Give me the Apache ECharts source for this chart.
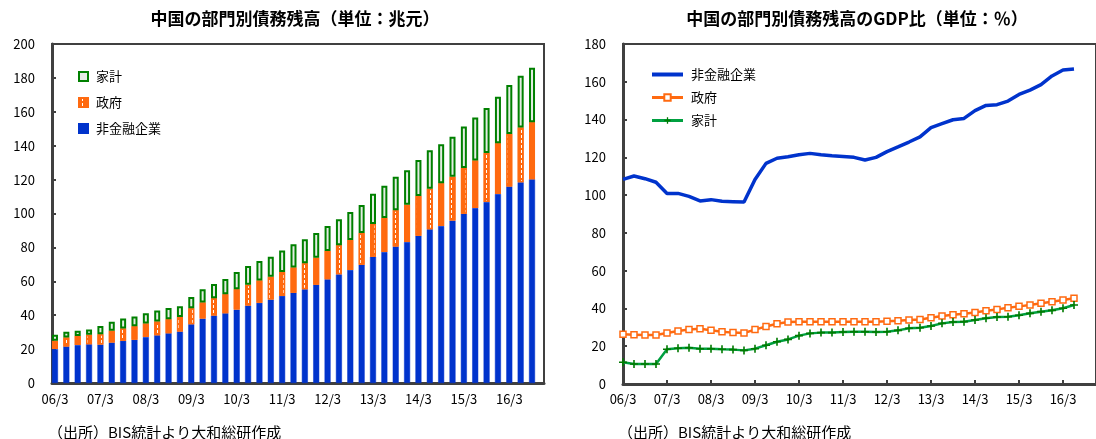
<!DOCTYPE html>
<html>
<head>
<meta charset="utf-8">
<script src="https://cdn.jsdelivr.net/npm/echarts@6/dist/echarts.min.js"></script>
<style>
  html, body { margin: 0; padding: 0; background: #fff; }
  #chart { width: 1096px; height: 439px; }
</style>
</head>
<body>
<div id="chart"></div>
<script>
// 四半期ラベル（06/3 〜 16/9）
const quarters = [
  '06/3','06/6','06/9','06/12','07/3','07/6','07/9','07/12',
  '08/3','08/6','08/9','08/12','09/3','09/6','09/9','09/12',
  '10/3','10/6','10/9','10/12','11/3','11/6','11/9','11/12',
  '12/3','12/6','12/9','12/12','13/3','13/6','13/9','13/12',
  '14/3','14/6','14/9','14/12','15/3','15/6','15/9','15/12',
  '16/3','16/6','16/9'
];

// 左：債務残高（兆元）
const corpDebt = [20.0,21.6,22.4,22.9,22.7,23.9,24.9,25.5,27.1,28.2,29.4,30.4,34.7,38.0,39.8,41.2,43.3,45.7,47.3,49.2,51.4,53.3,55.3,58.0,61.2,64.1,66.7,69.8,74.5,77.3,80.6,83.2,86.9,90.7,92.6,95.8,99.9,103.2,106.8,111.5,116.0,118.4,120.2];
const govDebt = [4.9,5.3,5.4,5.5,6.1,6.9,7.3,8.0,8.0,8.1,8.2,8.6,9.4,9.5,10.2,11.2,12.0,12.3,13.1,13.5,14.1,14.9,15.3,15.9,16.7,17.1,17.7,18.7,19.3,20.0,21.3,22.0,23.4,23.9,25.2,25.9,26.9,28.0,28.9,29.9,30.9,32.4,33.6];
const hhDebt = [3.5,3.3,3.0,3.2,4.9,5.3,5.8,5.7,6.1,6.4,6.7,6.3,6.7,7.8,8.4,9.0,10.2,11.0,11.6,11.8,12.7,13.6,14.2,14.6,14.7,15.4,16.5,16.5,17.9,19.1,19.8,20.3,21.3,22.7,23.0,23.6,24.6,25.5,26.5,27.5,28.9,30.5,32.2];

// 右：GDP比（%）
const corpRatio = [108.3,110.1,108.7,106.8,100.9,100.9,99.3,96.9,97.6,96.7,96.5,96.3,108.3,116.8,119.5,120.3,121.4,122.1,121.4,120.9,120.5,120.0,118.6,120.0,123.0,125.5,128.1,130.8,135.7,137.8,139.9,140.6,144.7,147.5,147.9,149.8,153.3,155.6,158.5,163.1,166.2,166.8];
const govRatio = [26.3,26.1,25.9,25.9,27.0,28.1,28.8,29.3,28.4,27.7,27.2,27.0,28.8,30.4,31.9,32.8,33.0,33.0,33.0,33.0,33.0,33.0,33.0,33.0,33.2,33.5,33.9,34.2,35.1,36.0,36.7,37.2,37.9,38.8,39.5,40.4,41.1,41.8,42.7,43.6,44.5,45.4];
const hhRatio = [11.5,10.6,10.6,10.6,18.4,18.9,19.2,18.7,18.7,18.4,18.2,17.8,18.7,20.5,22.4,23.6,25.6,26.8,27.2,27.2,27.5,27.7,27.7,27.5,27.7,28.4,29.5,29.8,30.7,32.1,32.8,33.0,33.9,34.8,35.5,35.6,36.4,37.4,38.3,39.0,40.1,41.8];

const yTicksLeft = [0, 200, 20];
const yTicksRight = [0, 180, 20];

const axisColor = '#404040';
const font = '"Noto Sans CJK JP", "Noto Sans", sans-serif';
const labelIdx = quarters.map((q, i) => i).filter(i => i % 4 === 0);

const toXY = arr => arr.map((v, i) => [i, v]);

const tickLabel = { color: '#000', fontSize: 13, fontFamily: font };

function yAxisOf(gridIndex, t, show) {
  return {
    type: 'value', gridIndex, min: t[0], max: t[1], interval: t[2], show,
    axisLine: { show: true, lineStyle: { color: axisColor, width: 3 } },
    axisTick: { show: true, inside: true, length: 4, lineStyle: { color: axisColor, width: 2 } },
    axisLabel: Object.assign({ margin: 17 }, tickLabel),
    splitLine: { show: false }
  };
}

const chart = echarts.init(document.getElementById('chart'));

chart.setOption({
  animation: false,
  backgroundColor: '#fff',
  textStyle: { fontFamily: font },
  grid: [
    // 左：枠
    { left: 52, top: 44, width: 492, height: 339, show: true, borderColor: axisColor, borderWidth: 2 },
    // 左：棒
    { left: 49.3, top: 44, width: 488.4, height: 339 },
    // 右
    { left: 623, top: 44, width: 495, height: 340, show: true, borderColor: axisColor, borderWidth: 2 }
  ],
  xAxis: [
    {
      type: 'value', gridIndex: 0, min: 0, max: 1,
      axisLine: { show: true, lineStyle: { color: axisColor, width: 3 } },
      axisTick: { show: false }, axisLabel: { show: false }, splitLine: { show: false }
    },
    {
      type: 'category', gridIndex: 1, data: quarters, boundaryGap: true,
      axisLine: { show: false },
      axisTick: { show: true, inside: true, length: 4, alignWithLabel: true, interval: 3, lineStyle: { color: axisColor, width: 2 } },
      axisLabel: Object.assign({ interval: 3, margin: 10 }, tickLabel)
    },
    {
      type: 'value', gridIndex: 2, min: 0, max: 43,
      axisLine: { show: true, onZero: false, lineStyle: { color: axisColor, width: 3 } },
      axisTick: { show: true, inside: true, length: 4, customValues: labelIdx, lineStyle: { color: axisColor, width: 2 } },
      axisLabel: Object.assign({ customValues: labelIdx, margin: 9, formatter: v => quarters[Math.round(v)] }, tickLabel),
      splitLine: { show: false }
    }
  ],
  yAxis: [
    yAxisOf(0, yTicksLeft, true),
    yAxisOf(1, yTicksLeft, false),
    yAxisOf(2, yTicksRight, true)
  ],
  legend: [
    {
      orient: 'vertical', left: 73, top: 65, itemGap: 13,
      itemWidth: 9, itemHeight: 9,
      textStyle: { fontSize: 13, color: '#000', fontFamily: font, padding: [0, 0, 0, 3] },
      data: ['家計', '政府', '非金融企業'].map(n => ({ name: n, icon: 'rect' }))
    },
    {
      orient: 'vertical', left: 645, top: 63, itemGap: 10,
      itemWidth: 31, itemHeight: 8,
      textStyle: { fontSize: 13, color: '#000', fontFamily: font, padding: [0, 0, 0, 3] },
      data: [
        { name: '非金融企業 ', lineStyle: { width: 4 } },
        { name: '政府 ', lineStyle: { width: 3 } },
        { name: '家計 ', lineStyle: { width: 3 } }
      ]
    }
  ],
  graphic: [
    { type: 'text', x: 295, y: 19, style: { text: '中国の部門別債務残高（単位：兆元）', fill: '#000', font: 'bold 17px ' + font, textAlign: 'center', textVerticalAlign: 'middle' } },
    { type: 'text', x: 857, y: 19, style: { text: '中国の部門別債務残高のGDP比（単位：％）', fill: '#000', font: 'bold 17px ' + font, textAlign: 'center', textVerticalAlign: 'middle' } },
    { type: 'text', x: 48, y: 432, style: { text: '（出所）BIS統計より大和総研作成', fill: '#000', font: '15px ' + font, textVerticalAlign: 'middle' } },
    { type: 'text', x: 618, y: 432, style: { text: '（出所）BIS統計より大和総研作成', fill: '#000', font: '15px ' + font, textVerticalAlign: 'middle' } }
  ],
  series: [
    {
      name: '非金融企業', type: 'bar', stack: 'debt', xAxisIndex: 1, yAxisIndex: 1,
      barWidth: 6, data: corpDebt,
      itemStyle: { color: '#0033CC', borderColor: '#0033CC', borderWidth: 0.5 }
    },
    {
      name: '政府', type: 'bar', stack: 'debt', xAxisIndex: 1, yAxisIndex: 1,
      barWidth: 6, data: govDebt,
      itemStyle: {
        color: '#FF6A10', borderColor: '#FF6A10', borderWidth: 1.5,
        decal: { symbol: 'rect', color: '#FFFFFF', dashArrayX: [[0, 2.5, 1, 2.5]], dashArrayY: [3, 2], symbolSize: 1, rotation: 0 }
      }
    },
    {
      name: '家計', type: 'bar', stack: 'debt', xAxisIndex: 1, yAxisIndex: 1,
      barWidth: 6, data: hhDebt,
      itemStyle: { color: '#E4ECE4', borderColor: '#008000', borderWidth: 2 }
    },
    {
      name: '非金融企業 ', type: 'line', xAxisIndex: 2, yAxisIndex: 2,
      data: toXY(corpRatio), showSymbol: false, symbol: 'circle', symbolSize: 1,
      lineStyle: { color: '#0033CC', width: 3.5 }, itemStyle: { color: 'rgba(0,0,0,0)' }
    },
    {
      name: '政府 ', type: 'line', xAxisIndex: 2, yAxisIndex: 2,
      data: toXY(govRatio), symbol: 'rect', symbolSize: 6,
      lineStyle: { color: '#FF6A10', width: 2.5 },
      itemStyle: { color: '#fff', borderColor: '#FF6A10', borderWidth: 1.5 }
    },
    {
      name: '家計 ', type: 'line', xAxisIndex: 2, yAxisIndex: 2,
      data: toXY(hhRatio),
      symbol: 'path://M4,0 h2 v4 h4 v2 h-4 v4 h-2 v-4 h-4 v-2 h4 z', symbolSize: 8,
      lineStyle: { color: '#00A040', width: 2.5 },
      itemStyle: { color: '#007A00' }
    }
  ]
});
</script>
</body>
</html>
